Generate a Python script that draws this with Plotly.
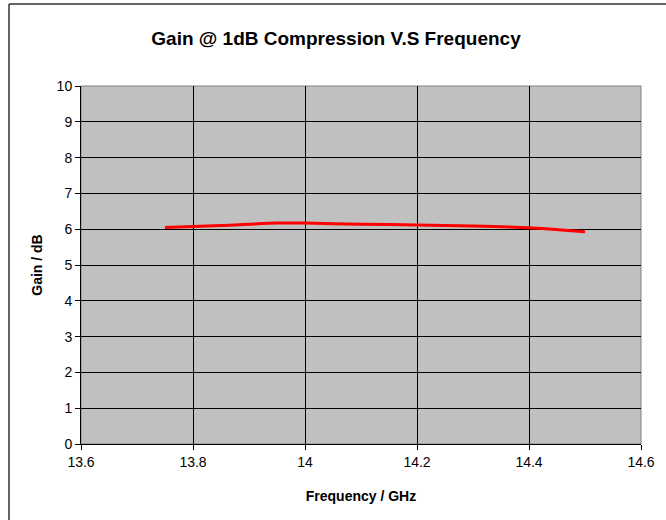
import plotly.graph_objects as go

freq_ghz = [13.75, 13.85, 13.95, 14.0, 14.1, 14.2, 14.3, 14.4, 14.5]
gain_db = [6.05, 6.10, 6.17, 6.17, 6.14, 6.12, 6.09, 6.04, 5.93]

x_ticks = [13.6, 13.8, 14.0, 14.2, 14.4, 14.6]
x_tick_labels = ["13.6", "13.8", "14", "14.2", "14.4", "14.6"]
y_ticks = list(range(0, 11))

L, R, T, B = 81, 25, 86, 76
W, H = 666, 520
pw, ph = W - L - R, H - T - B

fig = go.Figure()
fig.add_trace(go.Scatter(
    x=freq_ghz, y=gain_db, mode="lines",
    line=dict(color="#FF0000", width=3, shape="spline", smoothing=0.6),
    showlegend=False, hoverinfo="x+y",
))

font = "Liberation Sans, Arial, sans-serif"
fig.update_layout(
    width=W, height=H,
    margin=dict(l=L, r=R, t=T, b=B),
    paper_bgcolor="white",
    plot_bgcolor="#C0C0C0",
    font=dict(family=font, color="black", size=14),
    title=dict(text="<b>Gain @ 1dB Compression V.S Frequency</b>",
               x=336 / W, xref="container", xanchor="center",
               y=1 - 38 / H, yref="container", yanchor="middle",
               font=dict(size=19, family=font, color="black")),
    xaxis=dict(range=[13.6, 14.6], tickvals=x_ticks, ticktext=x_tick_labels,
               showgrid=True, gridcolor="black", gridwidth=1,
               showline=True, linecolor="black", linewidth=1,
               ticks="outside", ticklen=5, tickcolor="black",
               zeroline=False, tickfont=dict(size=14),
               title=dict(text="<b>Frequency / GHz</b>", font=dict(size=14), standoff=22)),
    yaxis=dict(range=[0, 10], tickvals=y_ticks,
               showgrid=True, gridcolor="black", gridwidth=1,
               showline=True, linecolor="black", linewidth=1,
               ticks="outside", ticklen=5, tickcolor="black",
               zeroline=False, tickfont=dict(size=14),
               title=dict(text="<b>Gain / dB</b>", font=dict(size=14), standoff=10)),
)

# plot area border (gray)
fig.add_shape(type="rect", xref="paper", yref="paper", x0=0, x1=1, y0=0, y1=1,
              line=dict(color="#808080", width=1), layer="below")
# outer chart frame: left and top edges only are inside the picture
fx = (9 - L) / pw
fy = (H - B - 4) / ph
fig.add_shape(type="line", xref="paper", yref="paper",
              x0=fx, x1=fx, y0=fy, y1=-(B + 5) / ph,
              line=dict(color="#333333", width=1.5))
fig.add_shape(type="line", xref="paper", yref="paper",
              x0=fx, x1=(W + 5 - L) / pw, y0=fy, y1=fy,
              line=dict(color="#333333", width=1.5))

fig.write_html("out.html")
